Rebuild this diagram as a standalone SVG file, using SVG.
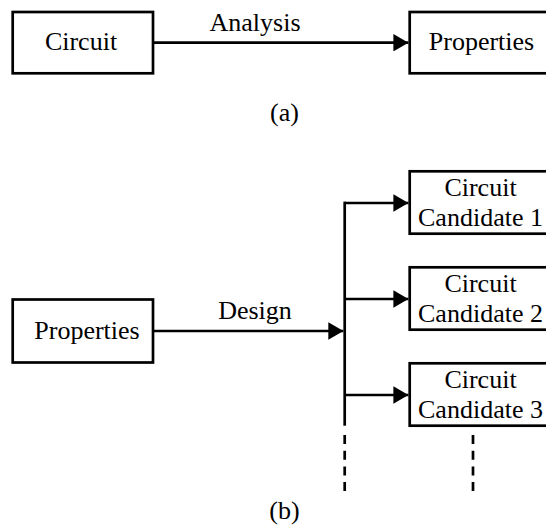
<svg xmlns="http://www.w3.org/2000/svg" width="546" height="526" viewBox="0 0 546 526">
  <style>
    .box { fill: #ffffff; stroke: #000000; stroke-width: 2.7; }
    .wire { fill: none; stroke: #000000; stroke-width: 2.7; }
    .dash { fill: none; stroke: #000000; stroke-width: 2.7; stroke-dasharray: 9 6.7; }
    text { font-family: 'Liberation Serif', 'Times New Roman', Times, 'DejaVu Serif', serif; font-size: 26px; fill: #000000; text-anchor: middle; }
  </style>
  <defs>
    <marker id="arrow" markerUnits="userSpaceOnUse" markerWidth="15" markerHeight="17.4" viewBox="0 0 15 17.4" refX="15" refY="8.7" orient="auto">
      <path d="M0,0 L15,8.7 L0,17.4 Z" fill="#000000"/>
    </marker>
  </defs>
  <rect width="546" height="526" fill="#ffffff"/>

  <g font-family="Liberation Serif, serif">
    <!-- (a) analysis -->
    <g id="circuit-a">
      <rect class="box" x="12.7" y="12" width="140.3" height="61.3"/>
      <text x="81" y="50">Circuit</text>
    </g>
    <g id="properties-a">
      <rect class="box" x="409.7" y="12" width="150" height="61.3"/>
      <text x="481.5" y="50">Properties</text>
    </g>
    <text x="255" y="31">Analysis</text>
    <text x="284.5" y="121">(a)</text>

    <!-- (b) design -->
    <g id="properties-b">
      <rect class="box" x="12.7" y="299.5" width="140.3" height="63"/>
      <text x="87" y="338.5">Properties</text>
    </g>
    <g id="candidate-1">
      <rect class="box" x="409.7" y="171.3" width="150" height="62.4"/>
      <text x="480.5" y="196">Circuit</text>
      <text x="480.5" y="226">Candidate 1</text>
    </g>
    <g id="candidate-2">
      <rect class="box" x="409.7" y="267.3" width="150" height="62.4"/>
      <text x="480.5" y="292">Circuit</text>
      <text x="480.5" y="322">Candidate 2</text>
    </g>
    <g id="candidate-3">
      <rect class="box" x="409.7" y="363.3" width="150" height="62.4"/>
      <text x="480.5" y="388">Circuit</text>
      <text x="480.5" y="418">Candidate 3</text>
    </g>
    <text x="255" y="318.5">Design</text>
    <text x="284.5" y="519">(b)</text>
  </g>

  <g id="connectors">
    <line class="wire" x1="153" y1="42.7" x2="408.4" y2="42.7" marker-end="url(#arrow)"/>
    <line class="wire" x1="153" y1="331" x2="343.3" y2="331" marker-end="url(#arrow)"/>
    <line class="wire" x1="344.7" y1="201.65" x2="344.7" y2="425.7"/>
    <line class="wire" x1="344.7" y1="203" x2="408.4" y2="203" marker-end="url(#arrow)"/>
    <line class="wire" x1="344.7" y1="299" x2="408.4" y2="299" marker-end="url(#arrow)"/>
    <line class="wire" x1="344.7" y1="395" x2="408.4" y2="395" marker-end="url(#arrow)"/>
    <line class="dash" x1="344.7" y1="435" x2="344.7" y2="491"/>
    <line class="dash" x1="473" y1="435" x2="473" y2="491"/>
  </g>
</svg>
